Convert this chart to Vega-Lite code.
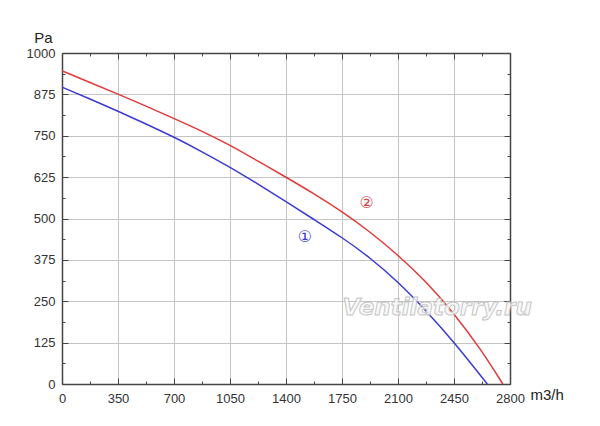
{
  "$schema": "https://vega.github.io/schema/vega-lite/v6.json",
  "width": 448,
  "height": 331,
  "autosize": "none",
  "padding": {"left": 62, "top": 53, "right": 90, "bottom": 42},
  "background": "white",
  "config": {"view": {"stroke": null}, "font": "Liberation Sans"},
  "datasets": {
    "curves": [
      {"curve": "1", "flow": 0, "pressure": 897},
      {"curve": "1", "flow": 175, "pressure": 861},
      {"curve": "1", "flow": 350, "pressure": 824},
      {"curve": "1", "flow": 525, "pressure": 786},
      {"curve": "1", "flow": 700, "pressure": 746},
      {"curve": "1", "flow": 875, "pressure": 702},
      {"curve": "1", "flow": 1050, "pressure": 655},
      {"curve": "1", "flow": 1225, "pressure": 604},
      {"curve": "1", "flow": 1400, "pressure": 551},
      {"curve": "1", "flow": 1575, "pressure": 497},
      {"curve": "1", "flow": 1750, "pressure": 443},
      {"curve": "1", "flow": 1925, "pressure": 382},
      {"curve": "1", "flow": 2100, "pressure": 309},
      {"curve": "1", "flow": 2275, "pressure": 222},
      {"curve": "1", "flow": 2450, "pressure": 127},
      {"curve": "1", "flow": 2658, "pressure": 0},
      {"curve": "2", "flow": 0, "pressure": 946},
      {"curve": "2", "flow": 175, "pressure": 911},
      {"curve": "2", "flow": 350, "pressure": 876},
      {"curve": "2", "flow": 525, "pressure": 840},
      {"curve": "2", "flow": 700, "pressure": 802},
      {"curve": "2", "flow": 875, "pressure": 764},
      {"curve": "2", "flow": 1050, "pressure": 722},
      {"curve": "2", "flow": 1225, "pressure": 673},
      {"curve": "2", "flow": 1400, "pressure": 625},
      {"curve": "2", "flow": 1575, "pressure": 575},
      {"curve": "2", "flow": 1750, "pressure": 521},
      {"curve": "2", "flow": 1925, "pressure": 460},
      {"curve": "2", "flow": 2100, "pressure": 390},
      {"curve": "2", "flow": 2275, "pressure": 310},
      {"curve": "2", "flow": 2450, "pressure": 214},
      {"curve": "2", "flow": 2625, "pressure": 100},
      {"curve": "2", "flow": 2755, "pressure": 0}
    ],
    "labels": [
      {"curve": "1", "flow": 1519, "pressure": 443, "text": "①"},
      {"curve": "2", "flow": 1904, "pressure": 548, "text": "②"}
    ],
    "mark": [
      {"flow": 2345, "pressure": 230, "text": "Ventilatorry.ru"}
    ]
  },
  "layer": [
    {
      "data": {"name": "curves"},
      "mark": {"type": "line", "interpolate": "basis", "strokeWidth": 1.5},
      "encoding": {
        "x": {
          "field": "flow",
          "type": "quantitative",
          "scale": {"domain": [0, 2800], "nice": false},
          "axis": {
            "orient": "bottom",
            "values": [0, 175, 350, 525, 700, 875, 1050, 1225, 1400, 1575, 1750, 1925, 2100, 2275, 2450, 2625, 2800],
            "format": "d",
            "labelExpr": "datum.value % 350 === 0 ? datum.label : ''",
            "grid": true,
            "gridColor": "#c4c4c4",
            "gridWidth": 1,
            "gridOpacity": {"condition": {"test": "datum.value % 350 === 0", "value": 1}, "value": 0},
            "tickSize": {"condition": {"test": "datum.value % 350 === 0", "value": -6}, "value": -3},
            "tickColor": "#444",
            "tickWidth": 1,
            "domainColor": "#444",
            "domainWidth": 1.5,
            "labelFontSize": 13,
            "labelColor": "#333",
            "labelPadding": 14,
            "labelFlush": false,
            "labelOverlap": false,
            "title": "m3/h",
            "titleX": 468,
            "titleY": 15,
            "titleAlign": "left",
            "titleBaseline": "alphabetic",
            "titleFontSize": 15,
            "titleFontWeight": "normal",
            "titleColor": "#222"
          }
        },
        "y": {
          "field": "pressure",
          "type": "quantitative",
          "scale": {"domain": [0, 1000], "nice": false},
          "axis": {
            "orient": "left",
            "values": [0, 62.5, 125, 187.5, 250, 312.5, 375, 437.5, 500, 562.5, 625, 687.5, 750, 812.5, 875, 937.5, 1000],
            "labelExpr": "datum.value % 125 === 0 ? datum.label : ''",
            "format": "d",
            "grid": true,
            "gridColor": "#c4c4c4",
            "gridWidth": 1,
            "gridOpacity": {"condition": {"test": "datum.value % 125 === 0", "value": 1}, "value": 0},
            "tickSize": {"condition": {"test": "datum.value % 125 === 0", "value": -6}, "value": -3},
            "tickColor": "#444",
            "tickWidth": 1,
            "domainColor": "#444",
            "domainWidth": 1.5,
            "labelFontSize": 13,
            "labelColor": "#333",
            "labelPadding": 13,
            "labelFlush": false,
            "labelOverlap": false,
            "title": "Pa",
            "titleAngle": 0,
            "titleX": -19,
            "titleY": -11,
            "titleAlign": "center",
            "titleBaseline": "alphabetic",
            "titleFontSize": 15,
            "titleFontWeight": "normal",
            "titleColor": "#222"
          }
        },
        "color": {
          "field": "curve",
          "type": "nominal",
          "scale": {"domain": ["1", "2"], "range": ["#3b3bd1", "#e03a3a"]},
          "legend": null
        }
      }
    },
    {
      "data": {"name": "labels"},
      "mark": {"type": "text", "font": "DejaVu Sans", "fontSize": 16, "align": "center", "baseline": "middle"},
      "encoding": {
        "x": {
          "field": "flow",
          "type": "quantitative",
          "axis": {
            "orient": "top",
            "values": [0, 175, 350, 525, 700, 875, 1050, 1225, 1400, 1575, 1750, 1925, 2100, 2275, 2450, 2625, 2800],
            "labels": false,
            "grid": false,
            "title": null,
            "tickSize": {"condition": {"test": "datum.value % 350 === 0", "value": -6}, "value": -3},
            "tickColor": "#444",
            "tickWidth": 1,
            "domainColor": "#444",
            "domainWidth": 1.5
          }
        },
        "y": {
          "field": "pressure",
          "type": "quantitative",
          "axis": {
            "orient": "right",
            "values": [0, 62.5, 125, 187.5, 250, 312.5, 375, 437.5, 500, 562.5, 625, 687.5, 750, 812.5, 875, 937.5, 1000],
            "labels": false,
            "grid": false,
            "title": null,
            "tickSize": {"condition": {"test": "datum.value % 125 === 0", "value": -6}, "value": -3},
            "tickColor": "#444",
            "tickWidth": 1,
            "domainColor": "#444",
            "domainWidth": 1.5
          }
        },
        "text": {"field": "text"},
        "color": {"field": "curve", "type": "nominal", "legend": null}
      }
    },
    {
      "data": {"name": "mark"},
      "mark": {
        "type": "text",
        "font": "DejaVu Sans",
        "fontSize": 23,
        "fontWeight": "bold",
        "fontStyle": "italic",
        "fill": "#f7f7f7",
        "stroke": "#bdbdbd",
        "strokeWidth": 1,
        "align": "center",
        "baseline": "middle",
        "opacity": 0.85
      },
      "encoding": {
        "x": {"field": "flow", "type": "quantitative", "axis": null},
        "y": {"field": "pressure", "type": "quantitative", "axis": null},
        "text": {"field": "text"}
      }
    }
  ],
  "resolve": {"axis": {"x": "independent", "y": "independent"}}
}
